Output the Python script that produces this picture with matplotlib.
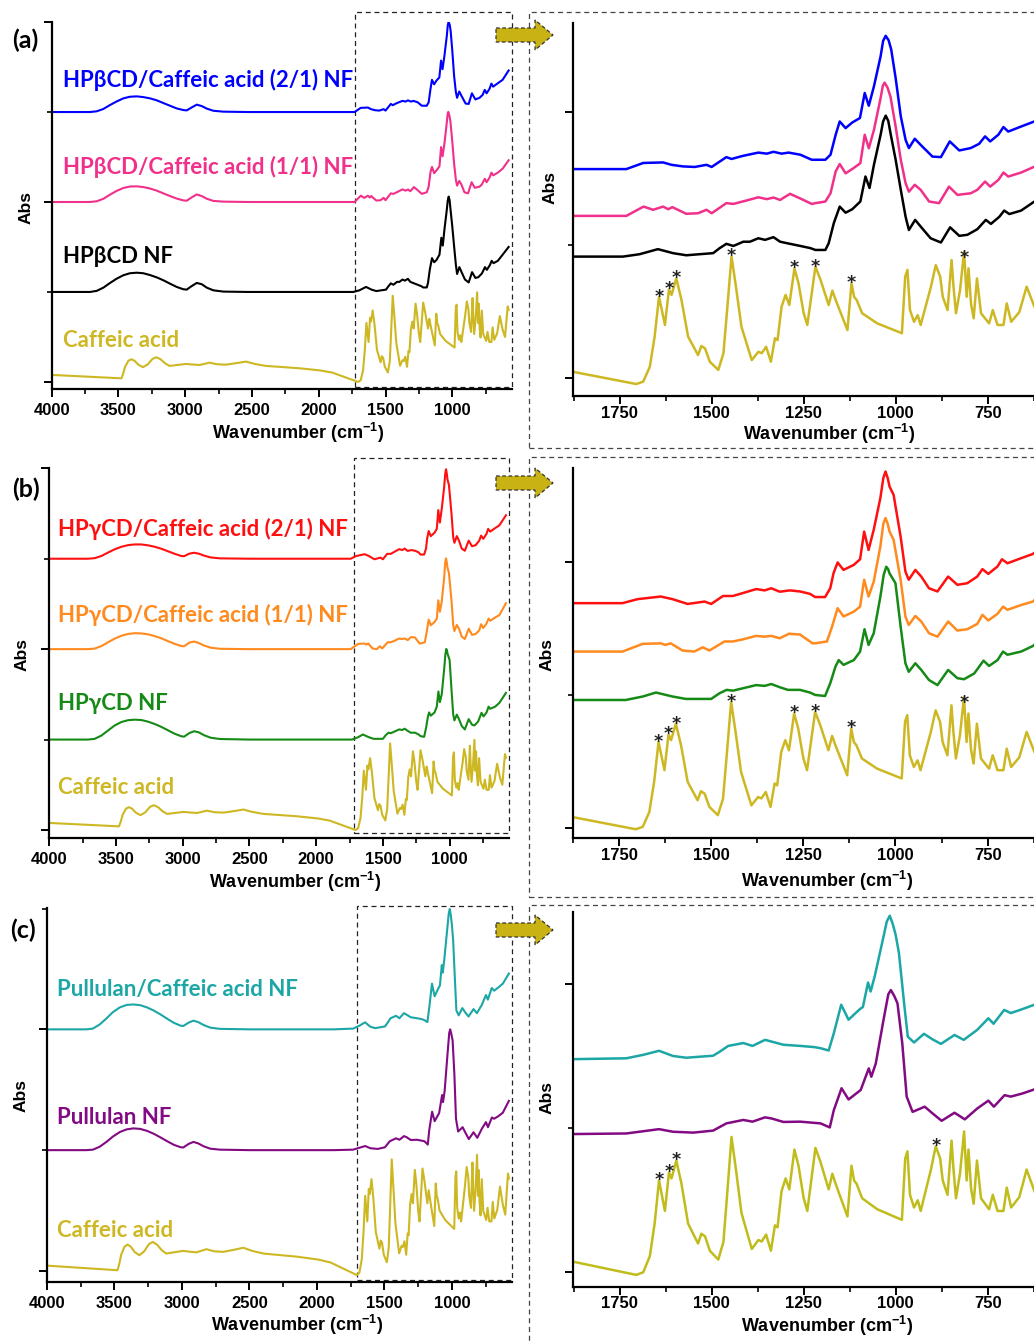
import numpy as np
import matplotlib.pyplot as plt
from matplotlib.patches import Rectangle, Polygon
from matplotlib.ticker import MultipleLocator
import matplotlib.transforms as mtransforms

plt.rcParams['font.family'] = ['Liberation Sans', 'DejaVu Sans']
plt.rcParams['font.weight'] = 'bold'
plt.rcParams['mathtext.fontset'] = 'custom'
plt.rcParams['mathtext.bf'] = 'Liberation Sans:bold'
plt.rcParams['mathtext.rm'] = 'Liberation Sans:bold'
plt.rcParams['mathtext.default'] = 'bf'

#   spectra: wavenumber (cm-1) and absorbance above each curve's own baseline (a.u.)
caffeic_wn = [4000, 3478, 3465, 3450, 3425, 3403, 3380, 3350, 3316, 3280, 3245, 3216, 3185, 3150, 3117, 3060,
              2993, 2950, 2893, 2819, 2760, 2694, 2620, 2545, 2480, 2396, 2147, 1990, 1899,
              1877, 1705, 1686, 1668, 1655, 1643, 1627, 1616, 1609, 1596, 1582, 1564, 1537, 1528, 1518, 1505,
              1482, 1468, 1458, 1446, 1434, 1419, 1391, 1373, 1364, 1352, 1339, 1328, 1321, 1310, 1299, 1289,
              1275, 1264, 1250, 1240, 1218, 1204, 1182, 1172, 1163, 1131, 1120, 1113, 1106, 1091, 1050, 983,
              974, 968, 961, 950, 940, 932, 904, 891, 879, 872, 859, 848, 843, 836, 825, 814, 807, 802, 795,
              788, 779, 768, 746, 736, 723, 707, 698, 686, 664, 644, 623, 605, 585, 578]
caffeic_abs = [0.039, 0.020, 0.045, 0.085, 0.118, 0.126, 0.118, 0.095, 0.082, 0.098, 0.128, 0.137, 0.126, 0.103, 0.089, 0.094,
               0.100, 0.097, 0.094, 0.107, 0.098, 0.096, 0.104, 0.113, 0.100, 0.089, 0.076, 0.064, 0.052,
               0.046, 0.000, 0.009, 0.065, 0.178, 0.328, 0.222, 0.356, 0.335, 0.397, 0.316, 0.178, 0.109, 0.143, 0.134, 0.084,
               0.053, 0.115, 0.278, 0.479, 0.366, 0.215, 0.090, 0.121, 0.116, 0.140, 0.084, 0.172, 0.165, 0.291, 0.335, 0.297,
               0.435, 0.379, 0.267, 0.222, 0.441, 0.391, 0.297, 0.351, 0.316, 0.203, 0.379, 0.328, 0.316, 0.266, 0.228, 0.191,
               0.404, 0.429, 0.278, 0.234, 0.259, 0.222, 0.366, 0.447, 0.404, 0.328, 0.278, 0.466, 0.370, 0.266, 0.353, 0.498, 0.328, 0.435, 0.300,
               0.247, 0.397, 0.266, 0.228, 0.278, 0.222, 0.222, 0.303, 0.234, 0.270, 0.366, 0.291, 0.250, 0.420, 0.400]

#   O-H / C-H stretching region shared wavenumbers
oh_wn_b = [4000, 3713, 3663, 3613, 3563, 3513, 3463, 3414, 3363, 3314, 3264, 3213, 3164, 3114, 3064, 3014,
           2989, 2955, 2914, 2876, 2839, 2789, 2714, 2530, 1877]
oh_wn_g = [4000, 3710, 3660, 3610, 3560, 3510, 3460, 3410, 3360, 3310, 3260, 3210, 3160, 3110, 3060, 3010,
           2990, 2950, 2915, 2880, 2840, 2790, 2720, 2500, 1877]

hpb_wn = oh_wn_b + [1741, 1696, 1646, 1605, 1569, 1496, 1478, 1460, 1441, 1414, 1396, 1373, 1355, 1332, 1314, 1287, 1259, 1232,
                    1218, 1191, 1182, 1168, 1152, 1136, 1118, 1096, 1082, 1071, 1059, 1041, 1034, 1027, 1020, 1014, 1000, 986, 973, 964,
                    947, 932, 905, 877, 852, 827, 805, 778, 755, 741, 718, 705, 691, 659, 623, 578]
hpb_abs = [0, 0, 0.006, 0.024, 0.050, 0.074, 0.093, 0.104, 0.107, 0.104, 0.094, 0.081, 0.065, 0.046, 0.028, 0.015,
           0.013, 0.031, 0.050, 0.043, 0.024, 0.009, 0.002, 0, 0,
           0, 0.009, 0.028, 0.013, 0.005, 0.013, 0.032, 0.048, 0.040, 0.056, 0.056, 0.069, 0.063, 0.073, 0.056, 0.048, 0.040, 0.032,
           0.025, 0.025, 0.050, 0.126, 0.188, 0.165, 0.178, 0.207, 0.301, 0.258, 0.345, 0.457, 0.508, 0.530, 0.510, 0.464, 0.364, 0.251, 0.150, 0.100,
           0.138, 0.113, 0.069, 0.053, 0.110, 0.078, 0.082, 0.103, 0.138, 0.123, 0.150, 0.173, 0.160, 0.173, 0.207, 0.250]

hpb21_wn = oh_wn_b + [1732, 1686, 1632, 1609, 1578, 1546, 1514, 1500, 1460, 1446, 1414, 1373, 1350, 1332, 1310, 1291, 1259, 1228,
                      1218, 1191, 1177, 1163, 1152, 1136, 1118, 1097, 1084, 1073, 1059, 1041, 1034, 1027, 1019, 1012, 1000, 986, 973, 964,
                      948, 932, 900, 877, 853, 827, 796, 773, 757, 743, 721, 707, 694, 659, 623, 578]
hpb21_abs = [0, 0, 0.004, 0.017, 0.039, 0.059, 0.076, 0.085, 0.087, 0.083, 0.076, 0.065, 0.050, 0.035, 0.020, 0.011,
             0.009, 0.024, 0.041, 0.033, 0.019, 0.007, 0.002, 0, 0,
             0, 0.023, 0.025, 0.016, 0.010, 0.008, 0.016, 0.008, 0.045, 0.038, 0.050, 0.062, 0.058, 0.065, 0.058, 0.062, 0.054, 0.035,
             0.035, 0.035, 0.054, 0.129, 0.179, 0.154, 0.175, 0.192, 0.286, 0.238, 0.311, 0.423, 0.482, 0.501, 0.484, 0.449, 0.342, 0.198, 0.110, 0.079,
             0.114, 0.091, 0.047, 0.045, 0.104, 0.070, 0.079, 0.095, 0.123, 0.104, 0.129, 0.158, 0.141, 0.160, 0.179, 0.231]

hpb11_wn = oh_wn_b + [1732, 1685, 1659, 1632, 1618, 1607, 1569, 1537, 1514, 1500, 1460, 1441, 1405, 1373, 1350, 1332, 1314, 1287, 1260, 1228,
                      1218, 1191, 1177, 1163, 1152, 1136, 1115, 1096, 1084, 1073, 1059, 1041, 1035, 1030, 1022, 1014, 1000, 986, 973, 964,
                      948, 932, 909, 882, 855, 832, 796, 778, 757, 743, 721, 707, 694, 659, 623, 578]
hpb11_abs = [0, 0, 0.004, 0.018, 0.041, 0.062, 0.078, 0.086, 0.087, 0.083, 0.075, 0.063, 0.048, 0.033, 0.019, 0.009,
             0.007, 0.024, 0.042, 0.033, 0.018, 0.006, 0.002, 0, 0,
             0, 0.035, 0.023, 0.035, 0.025, 0.033, 0.008, 0.010, 0.023, 0.010, 0.048, 0.045, 0.058, 0.070, 0.063, 0.069, 0.060, 0.083, 0.066, 0.045,
             0.048, 0.054, 0.085, 0.167, 0.195, 0.160, 0.179, 0.198, 0.305, 0.254, 0.323, 0.442, 0.488, 0.501, 0.482, 0.448, 0.336, 0.211, 0.123, 0.091,
             0.117, 0.098, 0.054, 0.048, 0.110, 0.079, 0.085, 0.098, 0.129, 0.110, 0.135, 0.163, 0.148, 0.163, 0.185, 0.232]

hpg_wn = oh_wn_g + [1732, 1686, 1650, 1605, 1569, 1500, 1478, 1458, 1441, 1414, 1378, 1355, 1337, 1314, 1292, 1259, 1232,
                    1218, 1191, 1177, 1163, 1154, 1141, 1113, 1096, 1084, 1073, 1059, 1041, 1032, 1025, 1020, 1016, 1000, 986, 973, 964,
                    946, 930, 909, 886, 857, 832, 814, 786, 761, 746, 723, 708, 696, 659, 627, 578]
hpg_abs = [0, 0, 0.004, 0.022, 0.050, 0.078, 0.097, 0.107, 0.110, 0.108, 0.099, 0.086, 0.070, 0.051, 0.032, 0.018,
           0.016, 0.036, 0.046, 0.040, 0.024, 0.010, 0.003, 0, 0,
           0, 0.013, 0.028, 0.013, 0.004, 0.004, 0.025, 0.038, 0.035, 0.044, 0.056, 0.053, 0.060, 0.048, 0.038, 0.038, 0.028,
           0.019, 0.015, 0.063, 0.125, 0.150, 0.132, 0.150, 0.182, 0.266, 0.207, 0.251, 0.388, 0.470, 0.501, 0.492, 0.476, 0.439, 0.276, 0.138, 0.106,
           0.138, 0.113, 0.075, 0.056, 0.113, 0.082, 0.078, 0.100, 0.148, 0.128, 0.150, 0.182, 0.170, 0.182, 0.203, 0.258]

hpg21_wn = oh_wn_g + [1741, 1700, 1637, 1605, 1564, 1518, 1500, 1468, 1441, 1414, 1378, 1355, 1337, 1314, 1287, 1259, 1232,
                      1218, 1191, 1177, 1168, 1157, 1141, 1113, 1096, 1085, 1073, 1059, 1041, 1033, 1027, 1021, 1016, 1005, 986, 973, 964,
                      946, 930, 909, 886, 857, 832, 805, 778, 764, 748, 723, 711, 696, 659, 627, 578]
hpg21_abs = [0, 0, 0.003, 0.015, 0.034, 0.052, 0.066, 0.075, 0.079, 0.079, 0.074, 0.066, 0.055, 0.041, 0.027, 0.015,
             0.014, 0.028, 0.033, 0.028, 0.017, 0.007, 0.002, 0, 0,
             0, 0.015, 0.025, 0.015, -0.003, 0.006, -0.003, 0.027, 0.027, 0.038, 0.053, 0.048, 0.056, 0.043, 0.048, 0.044, 0.035,
             0.023, 0.023, 0.056, 0.113, 0.153, 0.125, 0.144, 0.165, 0.269, 0.200, 0.276, 0.395, 0.470, 0.495, 0.470, 0.438, 0.407, 0.250, 0.119, 0.088,
             0.125, 0.100, 0.056, 0.044, 0.100, 0.069, 0.075, 0.100, 0.128, 0.110, 0.138, 0.165, 0.150, 0.169, 0.185, 0.240]

hpg11_wn = oh_wn_g + [1741, 1686, 1637, 1625, 1610, 1578, 1546, 1523, 1505, 1464, 1441, 1414, 1378, 1355, 1337, 1314, 1289, 1259, 1225,
                      1218, 1186, 1172, 1157, 1141, 1113, 1096, 1085, 1073, 1059, 1041, 1033, 1027, 1021, 1016, 1005, 986, 973, 964,
                      946, 930, 909, 886, 857, 832, 805, 778, 764, 748, 723, 708, 696, 659, 627, 578]
hpg11_abs = [0, 0, 0.003, 0.017, 0.038, 0.058, 0.074, 0.084, 0.088, 0.087, 0.082, 0.072, 0.060, 0.044, 0.029, 0.017,
             0.016, 0.036, 0.042, 0.034, 0.020, 0.008, 0.002, 0, 0,
             0, 0.029, 0.031, 0.025, 0.031, 0.004, 0, 0.016, 0.004, 0.038, 0.038, 0.046, 0.059, 0.056, 0.059, 0.050, 0.067, 0.064, 0.031,
             0.031, 0.038, 0.094, 0.163, 0.132, 0.150, 0.169, 0.270, 0.207, 0.263, 0.395, 0.480, 0.502, 0.480, 0.451, 0.420, 0.270, 0.132, 0.100,
             0.134, 0.113, 0.069, 0.056, 0.113, 0.079, 0.084, 0.104, 0.138, 0.117, 0.142, 0.169, 0.157, 0.175, 0.188, 0.254]

pul_wn = oh_wn_g + [1732, 1643, 1605, 1550, 1496, 1460, 1414, 1389, 1355, 1337, 1305, 1259, 1204, 1179,
                    1168, 1147, 1128, 1095, 1073, 1066, 1054, 1033, 1020, 1013, 1004, 995, 982, 970, 954, 921, 900, 875,
                    840, 812, 778, 748, 733, 704, 687, 655, 623, 578]
pul_abs = [0, 0, 0.002, 0.014, 0.034, 0.057, 0.075, 0.086, 0.090, 0.088, 0.080, 0.068, 0.053, 0.037, 0.022, 0.012,
           0.011, 0.026, 0.034, 0.028, 0.016, 0.006, 0.002, 0, 0,
           0.002, 0.017, 0.008, 0.005, 0.012, 0.037, 0.049, 0.043, 0.058, 0.054, 0.042, 0.043, 0.037, 0.023,
           0.083, 0.159, 0.120, 0.153, 0.228, 0.199, 0.245, 0.396, 0.485, 0.500, 0.480, 0.454, 0.315, 0.130, 0.077, 0.095, 0.072, 0.046,
           0.074, 0.051, 0.089, 0.116, 0.095, 0.135, 0.130, 0.141, 0.155, 0.204]

pulca_wn = oh_wn_g + [1732, 1686, 1643, 1605, 1569, 1496, 1478, 1455, 1414, 1389, 1355, 1337, 1305, 1259, 1222, 1204, 1182,
                      1168, 1148, 1128, 1097, 1089, 1075, 1068, 1057, 1036, 1024, 1016, 1008, 1000, 991, 977, 967, 950, 923, 900, 877,
                      840, 815, 778, 748, 734, 705, 687, 655, 623, 578]
pulca_abs = [0, 0, 0.003, 0.020, 0.045, 0.072, 0.091, 0.101, 0.103, 0.100, 0.091, 0.078, 0.062, 0.044, 0.027, 0.015,
             0.014, 0.028, 0.036, 0.030, 0.018, 0.007, 0.002, 0, 0,
             0.003, 0.015, 0.029, 0.011, 0.005, 0.012, 0.026, 0.046, 0.056, 0.046, 0.067, 0.061, 0.050, 0.046, 0.042, 0.038, 0.030,
             0.090, 0.189, 0.137, 0.174, 0.181, 0.266, 0.235, 0.287, 0.408, 0.478, 0.498, 0.470, 0.432, 0.368, 0.194, 0.078, 0.058, 0.088, 0.069, 0.053,
             0.084, 0.067, 0.102, 0.142, 0.123, 0.171, 0.160, 0.174, 0.189, 0.231]

#   caffeic acid bands marked with an asterisk
stars_ab = [1643, 1616, 1596, 1446, 1275, 1218, 1120, 813]
stars_c = [1643, 1616, 1596, 891]

#   colours
gold = '#CDB823'
gold_c = '#C0BC1C'
colors = {
    'hpb21': '#0000FF', 'hpb11': '#F0308A', 'hpb': '#000000',
    'hpg21': '#FF1010', 'hpg11': '#FF8A1E', 'hpg': '#168A16',
    'pulca': '#1CA6A6', 'pul': '#820A82',
}

W, H = 1034, 1342
fig = plt.figure(figsize=(W / 100, H / 100), dpi=100)


def fpt(x, y):
    return x / W, 1 - y / H


def make_axes(box, xlim, ylim, xmaj, xmin_, ymaj, ymin_, pad):
    l, t, r, b = box
    ax = fig.add_axes([l / W, 1 - b / H, (r - l) / W, (b - t) / H])
    ax.set_xlim(*xlim)
    ax.set_ylim(*ylim)
    ax.patch.set_alpha(0)
    for s in ['top', 'right']:
        ax.spines[s].set_visible(False)
    for s in ['left', 'bottom']:
        ax.spines[s].set_linewidth(1.6)
    ax.xaxis.set_major_locator(MultipleLocator(xmaj))
    ax.xaxis.set_minor_locator(MultipleLocator(xmin_))
    ax.set_yticks(ymaj)
    ax.set_yticks(ymin_, minor=True)
    ax.set_yticklabels([])
    ax.tick_params(which='major', direction='out', length=6, width=1.4, labelsize=12, pad=pad)
    ax.tick_params(which='minor', direction='out', length=3.5, width=1.2)
    return ax


def plot_curves(ax, curves, lw):
    for wn, a, c, off in curves:
        ax.plot(wn, np.array(a) + off, color=c, lw=lw, solid_joinstyle='round')


def zoom_box(ax, x0, y0, y1):
    trans = mtransforms.blended_transform_factory(ax.transData, ax.transAxes)
    x1 = ax.get_xlim()[1]
    ax.add_patch(Rectangle((x0, y0), x1 - x0, y1 - y0, transform=trans, fill=False,
                           ls=(0, (4, 3)), lw=0.9, ec='#222222', clip_on=False))


def stars(ax, positions, off):
    wn_r = np.array(caffeic_wn[::-1])
    ab_r = np.array(caffeic_abs[::-1])
    for p in positions:
        y = np.interp(p, wn_r, ab_r) + off
        ax.annotate('*', (p, y), xytext=(0, -3.5), textcoords='offset points', ha='center',
                    va='baseline', fontsize=12.5, fontweight='bold', family='DejaVu Sans', color='#222222')


def arrow(cy):
    pts = [(496, cy - 7), (535, cy - 7), (535, cy - 15), (553, cy), (535, cy + 15), (535, cy + 7), (496, cy + 7)]
    fig.add_artist(Polygon([fpt(x, y) for x, y in pts], closed=True, transform=fig.transFigure,
                           fc='#C8B214', ec='#333333', lw=0.9, ls=(0, (3, 2))))


def text(x, y, s, color='black', size=16, family=('Lato', 'DejaVu Sans'), **kw):
    fig.text(*fpt(x, y), s, color=color, fontsize=size, family=list(family), fontweight='bold', **kw)


wide = (4000, 555)
narrow = (1876, 624)

#   row (a)
ax = make_axes((51.7, 21.7, 511.7, 389.3), wide, (-0.041, 2.002), 500, 250, [0, 1, 2], [0.5, 1.5], 4)
plot_curves(ax, [(hpb21_wn, hpb21_abs, colors['hpb21'], 1.5), (hpb11_wn, hpb11_abs, colors['hpb11'], 1.0),
                 (hpb_wn, hpb_abs, colors['hpb'], 0.5), (caffeic_wn, caffeic_abs, gold, 0.0)], 1.5)
zoom_box(ax, 1726, 0.005, 1.026)
ax = make_axes((573.3, 23.3, 1034, 396), narrow, (-0.068, 1.333), 250, 125, [0, 1], [0.5], 1)
plot_curves(ax, [(hpb21_wn, hpb21_abs, colors['hpb21'], 0.785), (hpb11_wn, hpb11_abs, colors['hpb11'], 0.609),
                 (hpb_wn, hpb_abs, colors['hpb'], 0.456), (caffeic_wn, caffeic_abs, gold, -0.023)], 1.8)
stars(ax, stars_ab, -0.023)

#   row (b)
ax = make_axes((49.3, 468.3, 509, 838.3), wide, (-0.046, 1.998), 500, 250, [0, 1, 2], [0.5, 1.5], 4)
plot_curves(ax, [(hpg21_wn, hpg21_abs, colors['hpg21'], 1.5), (hpg11_wn, hpg11_abs, colors['hpg11'], 1.0),
                 (hpg_wn, hpg_abs, colors['hpg'], 0.5), (caffeic_wn, caffeic_abs, gold, 0.0)], 1.5)
zoom_box(ax, 1717, 0.0135, 1.027)
ax = make_axes((572.7, 468.3, 1034, 838.3), narrow, (-0.039, 1.352), 250, 125, [0, 1], [0.5], 1)
plot_curves(ax, [(hpg21_wn, hpg21_abs, colors['hpg21'], 0.845), (hpg11_wn, hpg11_abs, colors['hpg11'], 0.663),
                 (hpg_wn, hpg_abs, colors['hpg'], 0.481), (caffeic_wn, caffeic_abs, gold, -0.005)], 1.8)
stars(ax, stars_ab, -0.005)

#   row (c)
ax = make_axes((47, 908.3, 512, 1282.3), wide, (-0.047, 1.501), 500, 250, [0, 1], [0.5, 1.5], 4)
plot_curves(ax, [(pulca_wn, pulca_abs, colors['pulca'], 1.0), (pul_wn, pul_abs, colors['pul'], 0.5),
                 (caffeic_wn, caffeic_abs, gold, -0.017)], 1.5)
zoom_box(ax, 1701, 0.006, 1.007)
ax = make_axes((573.3, 911.7, 1034, 1286.7), narrow, (-0.051, 1.251), 250, 125, [0, 1], [0.5], 1)
plot_curves(ax, [(pulca_wn, pulca_abs, colors['pulca'], 0.739), (pul_wn, pul_abs, colors['pul'], 0.479),
                 (caffeic_wn, caffeic_abs, gold_c, -0.010)], 1.8)
stars(ax, stars_c, -0.010)

#   dashed frames round the zoomed panels
for top, bottom in [(12, 448), (457, 897), (905, 1360)]:
    x0, y0 = fpt(529, bottom)
    x1, y1 = fpt(1045, top)
    fig.add_artist(Rectangle((x0, y0), x1 - x0, y1 - y0, transform=fig.transFigure, fill=False,
                             ls=(0, (4, 3)), lw=0.9, ec='#444444'))

for cy in [35, 483, 930]:
    arrow(cy)

#   curve labels
text(62.7, 87.3, 'HPβCD/Caffeic acid (2/1) NF', colors['hpb21'])
text(62.7, 174.3, 'HPβCD/Caffeic acid (1/1) NF', colors['hpb11'])
text(62.7, 263.3, 'HPβCD NF', colors['hpb'])
text(62.7, 347.3, 'Caffeic acid', gold)
text(58, 535.7, 'HPγCD/Caffeic acid (2/1) NF', colors['hpg21'])
text(58, 622.3, 'HPγCD/Caffeic acid (1/1) NF', colors['hpg11'])
text(58, 710, 'HPγCD NF', colors['hpg'])
text(58, 794, 'Caffeic acid', gold)
text(57, 996, 'Pullulan/Caffeic acid NF', colors['pulca'])
text(57, 1124, 'Pullulan NF', colors['pul'])
text(57, 1237.3, 'Caffeic acid', gold)

#   panel letters
text(11.7, 47.7, '(a)', size=18)
text(11.7, 496.7, '(b)', size=18)
text(10, 937.7, '(c)', size=18)

#   axis titles
xl = r'Wavenumber (cm$^{-1}$)'
for x, y in [(298, 433), (829, 434), (295, 882), (827.5, 881), (297, 1325), (826.7, 1326)]:
    text(x, y, xl, size=13, family=('Liberation Sans', 'DejaVu Sans'), ha='center', va='center')
for x, y in [(26, 207), (550, 188), (22.5, 654.5), (547, 654), (21, 1095), (547, 1097.5)]:
    text(x, y, 'Abs', size=12.5, family=('Liberation Sans', 'DejaVu Sans'), ha='center', va='center', rotation=90)

fig.savefig('out.png', dpi=100)
